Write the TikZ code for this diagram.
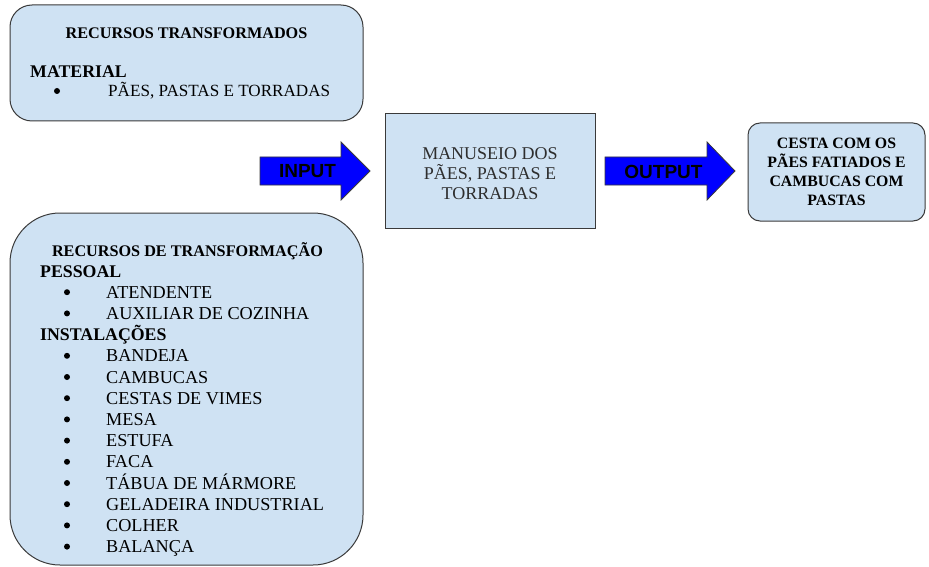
\documentclass[tikz,border=0pt]{standalone}
\usepackage{fontspec}
\setmainfont{Liberation Serif}
\newfontfamily\arrowfont{Liberation Sans}
\definecolor{boxfill}{HTML}{CFE2F3}
\definecolor{boxline}{HTML}{3A3A3A}
\definecolor{arrowblue}{HTML}{0000FF}
\definecolor{softtext}{HTML}{2E2E2E}
\begin{document}
\begin{tikzpicture}[x=1pt,y=-1pt,
  panel/.style={draw=boxline, line width=1pt, fill=boxfill, inner sep=0pt},
  blockarrow/.style={draw=boxline, line width=0.8pt, fill=arrowblue, line join=miter},
  arrowlabel/.style={inner sep=0pt, font=\arrowfont\bfseries\fontsize{19}{22}\selectfont},
  titletext/.style={inner sep=0pt, anchor=base, font=\bfseries\fontsize{16.2}{19}\selectfont},
  headtext/.style={inner sep=0pt, anchor=base west, font=\bfseries\fontsize{17.8}{21}\selectfont},
  itemtext/.style={inner sep=0pt, anchor=base west, font=\fontsize{18.2}{21}\selectfont},
  dot/.style={fill=black, circle, inner sep=0pt, minimum size=6pt}
]
\useasboundingbox (0,0) rectangle (929,567);

% transformed resources
\node[panel, rounded corners=22pt, minimum width=353pt, minimum height=116pt] (transformed) at (186.5,63) {};
\node[titletext] (ttitle) at (186.5,38.4) {RECURSOS TRANSFORMADOS};
\node[headtext] (material) at (30,78) {MATERIAL};
\node[dot] (mdot) at (57,91) {};
\node[itemtext, font=\fontsize{17.1}{20}\selectfont] (mitem) at (108,96.6) {PÃES, PASTAS E TORRADAS};

% transforming resources
\node[panel, rounded corners=50pt, minimum width=353pt, minimum height=352pt] (transforming) at (186.5,389) {};
\node[titletext] (btitle) at (187.5,256.6) {RECURSOS DE TRANSFORMAÇÃO};
\node[headtext] (pessoal) at (40,277.2) {PESSOAL};
\node[headtext] (instal) at (40,340.6) {INSTALAÇÕES};
\foreach \y/\txt [count=\i] in {
  292.2/ATENDENTE, 313.4/AUXILIAR DE COZINHA,
  355.8/BANDEJA, 377/CAMBUCAS, 398.2/CESTAS DE VIMES, 419.4/MESA,
  440.6/ESTUFA, 461.8/FACA, 483/TÁBUA DE MÁRMORE,
  504.2/GELADEIRA INDUSTRIAL, 525.4/COLHER, 546.6/BALANÇA} {
  \node[dot] (bdot\i) at (67,\y) {};
  \node[itemtext] (bitem\i) at (106,\y+6) {\txt};
}

% process
\node[panel, minimum width=210pt, minimum height=114pt, inner sep=0pt] (process) at (490,171) {};
\node[align=center, text=softtext, inner sep=0pt,
  font=\fontsize{18}{20}\selectfont] (processtext) at (490,174)
  {MANUSEIO DOS\\PÃES, PASTAS E\\TORRADAS};

% product
\node[panel, rounded corners=12pt, minimum width=177pt, minimum height=98pt, align=center,
  font=\bfseries\fontsize{15.8}{19}\selectfont] (product) at (836.5,172)
  {CESTA COM OS\\PÃES FATIADOS E\\CAMBUCAS COM\\PASTAS};

% block arrows
\draw[blockarrow] (260,157) -- (341,157) -- (341,142) -- (370,171) -- (341,200) -- (341,185) -- (260,185) -- cycle;
\node[arrowlabel] (input) at (307.5,171.5) {INPUT};
\draw[blockarrow] (605,157) -- (707,157) -- (707,142) -- (735,171) -- (707,200) -- (707,185) -- (605,185) -- cycle;
\node[arrowlabel] (output) at (663.5,171.5) {OUTPUT};
\end{tikzpicture}
\end{document}
